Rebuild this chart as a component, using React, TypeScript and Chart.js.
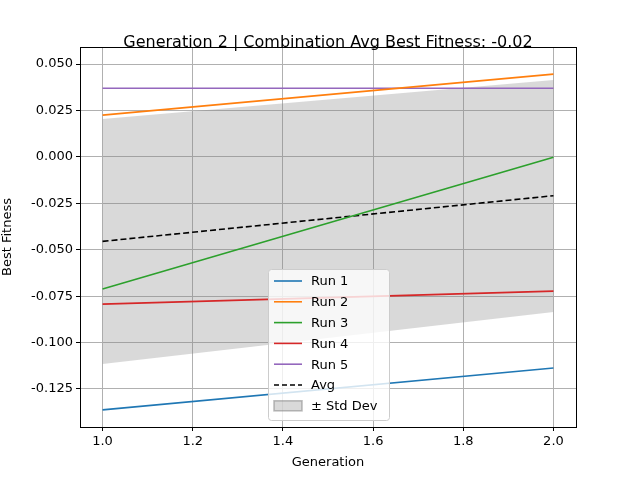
import { useEffect, useRef } from 'react';
import Chart from 'chart.js/auto';

const generations = [1, 2];
const run1 = [-0.1363, -0.1137];
const run2 = [0.0225, 0.0446];
const run3 = [-0.0712, -0.0002];
const run4 = [-0.0793, -0.0723];
const run5 = [0.037, 0.037];
const avg = [-0.0455, -0.0209];
const stdUpper = [0.0204, 0.0414];
const stdLower = [-0.1116, -0.0836];

const runColors = ['#1f77b4', '#ff7f0e', '#2ca02c', '#d62728', '#9467bd'];
const FONT = 'DejaVu Sans';

const pts = (ys: number[]) => generations.map((x, i) => ({ x, y: ys[i] }));

const legendPlugin = {
  id: 'mplLegend',
  afterDraw(chart: any) {
    const ctx = chart.ctx;
    const a = chart.chartArea;
    ctx.save();
    // frame
    ctx.strokeStyle = '#000';
    ctx.lineWidth = 1;
    ctx.strokeRect(Math.round(a.left) + 0.5, Math.round(a.top) + 0.5, Math.round(a.right - a.left), Math.round(a.bottom - a.top));
    // title
    ctx.fillStyle = '#000';
    ctx.font = `16px ${FONT}`;
    ctx.textAlign = 'center';
    ctx.textBaseline = 'middle';
    ctx.fillText('Generation 2 | Combination Avg Best Fitness: -0.02', 328, 43);
    // legend box
    const x0 = 268, y0 = 269, w = 121, h = 151;
    ctx.fillStyle = 'rgba(255,255,255,0.8)';
    ctx.strokeStyle = '#cccccc';
    ctx.beginPath();
    ctx.roundRect(x0 + 0.5, y0 + 0.5, w, h, 3);
    ctx.fill();
    ctx.stroke();
    const items = [
      ...runColors.map((c, i) => ({ label: `Run ${i + 1}`, color: c, dash: [] as number[], patch: false })),
      { label: 'Avg', color: '#000', dash: [5, 3], patch: false },
      { label: '± Std Dev', color: '#000', dash: [], patch: true },
    ];
    ctx.font = `13px ${FONT}`;
    ctx.textAlign = 'left';
    items.forEach((it, i) => {
      const y = y0 + 12 + i * 20.8;
      if (it.patch) {
        ctx.fillStyle = 'rgba(128,128,128,0.3)';
        ctx.fillRect(x0 + 6, y - 5, 28, 10);
        ctx.strokeStyle = 'rgba(128,128,128,0.5)';
        ctx.strokeRect(x0 + 6, y - 5, 28, 10);
      } else {
        ctx.strokeStyle = it.color;
        ctx.lineWidth = 1.6;
        ctx.setLineDash(it.dash);
        ctx.beginPath();
        ctx.moveTo(x0 + 6, y);
        ctx.lineTo(x0 + 34, y);
        ctx.stroke();
        ctx.setLineDash([]);
      }
      ctx.fillStyle = '#000';
      ctx.fillText(it.label, x0 + 43, y + 1);
    });
    ctx.restore();
  },
};

export default function App() {
  const ref = useRef<HTMLCanvasElement | null>(null);

  useEffect(() => {
    document.body.style.margin = '0';
    if (!ref.current) return;
    const tickFont = { family: FONT, size: 13 };
    const chart = new Chart(ref.current, {
      type: 'line',
      data: {
        datasets: [
          { label: 'upper', data: pts(stdUpper), borderWidth: 0, pointRadius: 0, fill: '+1', backgroundColor: 'rgba(128,128,128,0.3)', order: 10 },
          { label: 'lower', data: pts(stdLower), borderWidth: 0, pointRadius: 0, fill: false, order: 10 },
          ...[run1, run2, run3, run4, run5].map((r, i) => ({
            label: `Run ${i + 1}`, data: pts(r), borderColor: runColors[i], borderWidth: 1.6, pointRadius: 0, fill: false,
          })),
          { label: 'Avg', data: pts(avg), borderColor: '#000', borderDash: [6, 3], borderWidth: 1.6, pointRadius: 0, fill: false },
        ],
      },
      options: {
        animation: false,
        responsive: false,
        layout: { padding: { top: 47, right: 64, left: 0, bottom: 0 } },
        plugins: { legend: { display: false }, tooltip: { enabled: false } },
        scales: {
          x: {
            type: 'linear', min: 0.95, max: 2.05,
            afterBuildTicks: (s: any) => { s.ticks = [1, 1.2, 1.4, 1.6, 1.8, 2].map(v => ({ value: v })); },
            afterFit: (s: any) => { s.height = 53; },
            ticks: { color: '#000', font: tickFont, maxRotation: 0, callback: (v: any) => Number(v).toFixed(1) },
            grid: { color: '#b0b0b0', tickColor: '#000', tickLength: 4 },
            border: { color: '#000' },
            title: { display: true, text: 'Generation', color: '#000', font: tickFont, padding: { top: 0, bottom: 10 } },
          },
          y: {
            min: -0.1455, max: 0.0592,
            afterBuildTicks: (s: any) => { s.ticks = [-0.125, -0.1, -0.075, -0.05, -0.025, 0, 0.025, 0.05].map(v => ({ value: v })); },
            afterFit: (s: any) => { s.width = 80; },
            ticks: { color: '#000', font: tickFont, callback: (v: any) => Number(v).toFixed(3) },
            grid: { color: '#b0b0b0', tickColor: '#000', tickLength: 4 },
            border: { color: '#000' },
            title: { display: true, text: 'Best Fitness', color: '#000', font: tickFont, padding: { top: 0, bottom: 4 } },
          },
        },
      },
      plugins: [legendPlugin],
    });
    return () => chart.destroy();
  }, []);

  return <canvas ref={ref} width={640} height={480} style={{ display: 'block', background: '#fff' }} />;
}
